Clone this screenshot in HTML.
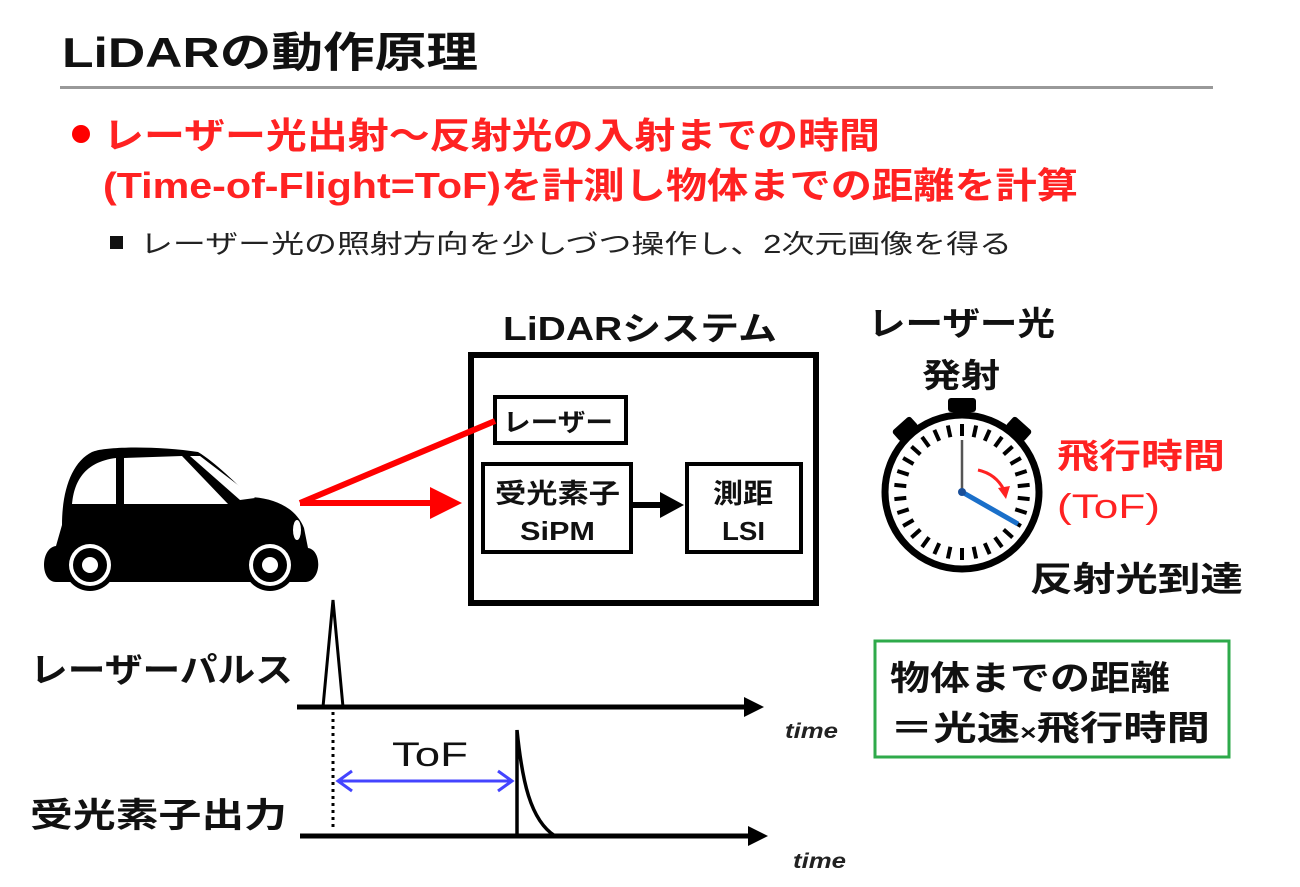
<!DOCTYPE html>
<html><head><meta charset="utf-8"><style>
body{margin:0;background:#fff;}
svg{display:block;font-family:"Liberation Sans","Noto Sans CJK JP",sans-serif;font-weight:bold;}
</style></head><body>
<svg width="1300" height="887" viewBox="0 0 1300 887" xmlns="http://www.w3.org/2000/svg">
<text x="62" y="67" font-size="42" fill="#111" textLength="416" lengthAdjust="spacingAndGlyphs">LiDARの動作原理</text>
<rect x="60" y="86" width="1153" height="3" fill="#999"/>
<circle cx="81" cy="134" r="9" fill="#f00"/>
<text x="103" y="148" font-size="36" fill="#f22" textLength="777" lengthAdjust="spacingAndGlyphs">レーザー光出射～反射光の入射までの時間</text>
<text x="103" y="198" font-size="36" fill="#f22" textLength="975" lengthAdjust="spacingAndGlyphs">(Time-of-Flight=ToF)を計測し物体までの距離を計算</text>
<rect x="110" y="236" width="13" height="13" fill="#111"/>
<text x="140" y="253" font-size="26" font-weight="normal" fill="#222" textLength="872" lengthAdjust="spacingAndGlyphs">レーザー光の照射方向を少しづつ操作し、2次元画像を得る</text>

<!-- LiDAR system -->
<text x="503" y="340" font-size="33" fill="#111" textLength="274" lengthAdjust="spacingAndGlyphs">LiDARシステム</text>
<rect x="471" y="355" width="345" height="248" fill="none" stroke="#000" stroke-width="6"/>
<rect x="495" y="397" width="131" height="46" fill="none" stroke="#000" stroke-width="4"/>
<text x="503" y="431" font-size="25" fill="#111" textLength="110" lengthAdjust="spacingAndGlyphs">レーザー</text>
<rect x="483" y="464" width="148" height="88" fill="none" stroke="#000" stroke-width="4"/>
<text x="495" y="503" font-size="27" fill="#111" textLength="125" lengthAdjust="spacingAndGlyphs">受光素子</text>
<text x="520" y="540" font-size="26" fill="#111" textLength="75" lengthAdjust="spacingAndGlyphs">SiPM</text>
<rect x="687" y="464" width="114" height="88" fill="none" stroke="#000" stroke-width="4"/>
<text x="713" y="503" font-size="27" fill="#111" textLength="60" lengthAdjust="spacingAndGlyphs">測距</text>
<text x="722" y="540" font-size="26" fill="#111" textLength="43" lengthAdjust="spacingAndGlyphs">LSI</text>
<line x1="633" y1="505" x2="662" y2="505" stroke="#000" stroke-width="6"/>
<polygon points="660,492 684,505 660,518" fill="#000"/>

<!-- red beams -->
<line x1="300" y1="503" x2="495" y2="421" stroke="#f00" stroke-width="6"/>
<line x1="300" y1="503" x2="440" y2="503" stroke="#f00" stroke-width="6"/>
<polygon points="430,487 462,503 430,519" fill="#f00"/>

<!-- car -->
<g fill="#000">
<path d="M62,525 C62,490 72,462 92,452 C105,446 160,446 198,452 C215,462 238,485 250,497 C275,498 296,508 304,528 L308,548 C322,550 322,580 306,582 L56,582 C40,582 40,548 56,546 Z"/>
<circle cx="90" cy="565" r="26"/>
<circle cx="270" cy="565" r="26"/>
</g>
<g fill="#fff">
<path d="M72,504 C74,482 84,462 116,458 L116,504 Z"/>
<path d="M124,458 L182,456 L228,504 L124,504 Z"/>
<path d="M190,456 L200,456 L255,498 L240,500 Z"/>
<ellipse cx="297" cy="530" rx="4" ry="10"/>
<circle cx="90" cy="565" r="21"/><circle cx="270" cy="565" r="21"/>
</g>
<g fill="#000"><circle cx="90" cy="565" r="17"/><circle cx="270" cy="565" r="17"/></g>
<g fill="#fff"><circle cx="90" cy="565" r="8"/><circle cx="270" cy="565" r="8"/></g>

<!-- clock -->
<text x="868" y="335" font-size="33" fill="#111" textLength="187" lengthAdjust="spacingAndGlyphs">レーザー光</text>
<text x="922" y="387" font-size="33" fill="#111" textLength="78" lengthAdjust="spacingAndGlyphs">発射</text>
<rect x="948" y="398" width="28" height="14" rx="3" fill="#000"/>
<g transform="rotate(-42 962 492)"><rect x="950" y="400" width="24" height="14" rx="3" fill="#000"/></g>
<g transform="rotate(42 962 492)"><rect x="950" y="400" width="24" height="14" rx="3" fill="#000"/></g>
<circle cx="962" cy="492" r="77" fill="#fff" stroke="#000" stroke-width="7"/>
<g stroke="#000" stroke-width="4">
<line x1="962" y1="424" x2="962" y2="436" transform="rotate(0 962 492)"/>
<line x1="962" y1="424" x2="962" y2="436" transform="rotate(12 962 492)"/>
<line x1="962" y1="424" x2="962" y2="436" transform="rotate(24 962 492)"/>
<line x1="962" y1="424" x2="962" y2="436" transform="rotate(36 962 492)"/>
<line x1="962" y1="424" x2="962" y2="436" transform="rotate(48 962 492)"/>
<line x1="962" y1="424" x2="962" y2="436" transform="rotate(60 962 492)"/>
<line x1="962" y1="424" x2="962" y2="436" transform="rotate(72 962 492)"/>
<line x1="962" y1="424" x2="962" y2="436" transform="rotate(84 962 492)"/>
<line x1="962" y1="424" x2="962" y2="436" transform="rotate(96 962 492)"/>
<line x1="962" y1="424" x2="962" y2="436" transform="rotate(108 962 492)"/>
<line x1="962" y1="424" x2="962" y2="436" transform="rotate(120 962 492)"/>
<line x1="962" y1="424" x2="962" y2="436" transform="rotate(132 962 492)"/>
<line x1="962" y1="424" x2="962" y2="436" transform="rotate(144 962 492)"/>
<line x1="962" y1="424" x2="962" y2="436" transform="rotate(156 962 492)"/>
<line x1="962" y1="424" x2="962" y2="436" transform="rotate(168 962 492)"/>
<line x1="962" y1="424" x2="962" y2="436" transform="rotate(180 962 492)"/>
<line x1="962" y1="424" x2="962" y2="436" transform="rotate(192 962 492)"/>
<line x1="962" y1="424" x2="962" y2="436" transform="rotate(204 962 492)"/>
<line x1="962" y1="424" x2="962" y2="436" transform="rotate(216 962 492)"/>
<line x1="962" y1="424" x2="962" y2="436" transform="rotate(228 962 492)"/>
<line x1="962" y1="424" x2="962" y2="436" transform="rotate(240 962 492)"/>
<line x1="962" y1="424" x2="962" y2="436" transform="rotate(252 962 492)"/>
<line x1="962" y1="424" x2="962" y2="436" transform="rotate(264 962 492)"/>
<line x1="962" y1="424" x2="962" y2="436" transform="rotate(276 962 492)"/>
<line x1="962" y1="424" x2="962" y2="436" transform="rotate(288 962 492)"/>
<line x1="962" y1="424" x2="962" y2="436" transform="rotate(300 962 492)"/>
<line x1="962" y1="424" x2="962" y2="436" transform="rotate(312 962 492)"/>
<line x1="962" y1="424" x2="962" y2="436" transform="rotate(324 962 492)"/>
<line x1="962" y1="424" x2="962" y2="436" transform="rotate(336 962 492)"/>
<line x1="962" y1="424" x2="962" y2="436" transform="rotate(348 962 492)"/>
</g>
<line x1="962" y1="492" x2="962" y2="440" stroke="#555" stroke-width="2.5"/>
<line x1="962" y1="492" x2="1018" y2="524" stroke="#1a6fc9" stroke-width="5"/>
<circle cx="962" cy="492" r="4" fill="#1a4f99"/>
<path d="M978,470 Q996,474 1004,490" fill="none" stroke="#f22" stroke-width="3"/>
<polygon points="998,488 1010,486 1006,499" fill="#f22"/>
<text x="1057" y="468" font-size="34" fill="#f22" textLength="168" lengthAdjust="spacingAndGlyphs">飛行時間</text>
<text x="1057" y="518" font-size="34" fill="#f22" style="font-weight:normal" textLength="103" lengthAdjust="spacingAndGlyphs">(ToF)</text>
<text x="1030" y="591" font-size="34" fill="#111" textLength="213" lengthAdjust="spacingAndGlyphs">反射光到達</text>

<!-- green box -->
<rect x="875" y="641" width="354" height="116" fill="none" stroke="#2eaa4a" stroke-width="3"/>
<text x="890" y="690" font-size="34" fill="#111" textLength="280" lengthAdjust="spacingAndGlyphs">物体までの距離</text>
<text x="890" y="740" font-size="34" fill="#111" textLength="320" lengthAdjust="spacingAndGlyphs">＝光速<tspan font-size="22">×</tspan>飛行時間</text>

<!-- timing -->
<text x="30" y="682" font-size="34" fill="#111" textLength="263" lengthAdjust="spacingAndGlyphs">レーザーパルス</text>
<text x="30" y="827" font-size="34" fill="#111" textLength="257" lengthAdjust="spacingAndGlyphs">受光素子出力</text>
<line x1="297" y1="707" x2="748" y2="707" stroke="#000" stroke-width="5"/>
<polygon points="744,697 764,707 744,717" fill="#000"/>
<polyline points="323,707 333,600 343,707" fill="none" stroke="#000" stroke-width="3"/>
<line x1="333" y1="712" x2="333" y2="828" stroke="#000" stroke-width="3" stroke-dasharray="3,4"/>
<text x="785" y="738" font-size="21" font-style="italic" fill="#222" textLength="53" lengthAdjust="spacingAndGlyphs">time</text>
<line x1="300" y1="836" x2="752" y2="836" stroke="#000" stroke-width="5"/>
<polygon points="748,826 768,836 748,846" fill="#000"/>
<text x="793" y="868" font-size="21" font-style="italic" fill="#222" textLength="53" lengthAdjust="spacingAndGlyphs">time</text>
<path d="M517,836 L517,730 C522,780 530,820 555,836" fill="none" stroke="#000" stroke-width="3.5"/>
<text x="392" y="766" font-size="34" fill="#111" style="font-weight:normal" textLength="76" lengthAdjust="spacingAndGlyphs">ToF</text>
<line x1="338" y1="781" x2="512" y2="781" stroke="#44f" stroke-width="3"/>
<polyline points="352,771 338,781 352,791" fill="none" stroke="#44f" stroke-width="3"/>
<polyline points="498,771 512,781 498,791" fill="none" stroke="#44f" stroke-width="3"/>
</svg>
</body></html>
